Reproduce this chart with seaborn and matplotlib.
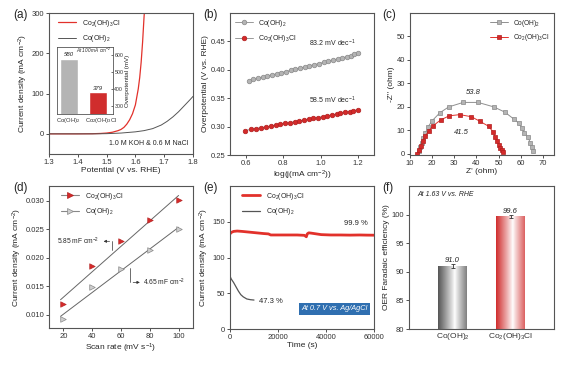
import numpy as np
import pandas as pd
import matplotlib
matplotlib.use("Agg")
import matplotlib.pyplot as plt
from matplotlib.colors import LinearSegmentedColormap
import seaborn as sns

sns.set_style("ticks")
plt.rcParams["font.family"] = ["Liberation Sans", "DejaVu Sans"]
plt.rcParams["mathtext.default"] = "regular"
plt.rcParams["axes.edgecolor"] = "#555555"
plt.rcParams["axes.linewidth"] = 0.8
plt.rcParams["xtick.color"] = "#333333"
plt.rcParams["ytick.color"] = "#333333"

RED = "#e2312b"
DRED = "#b01e1e"
GRAY = "#8a8a8a"
LGRAY = "#b4b4b4"
CL = "Co$_2$(OH)$_3$Cl"
CO = "Co(OH)$_2$"

# (a) LSV curves
pot_cl = [1.30, 1.40, 1.45, 1.48, 1.50, 1.52, 1.54, 1.55, 1.56, 1.57, 1.58, 1.59, 1.60, 1.61, 1.615, 1.62, 1.625, 1.63, 1.633]
j_cl = [0, 0, 0.3, 1, 2, 4, 8, 11, 16, 24, 35, 50, 72, 112, 140, 178, 228, 290, 320]
pot_co = [1.30, 1.45, 1.50, 1.55, 1.60, 1.63, 1.66, 1.69, 1.71, 1.73, 1.75, 1.77, 1.79, 1.80]
j_co = [0, 0, 0.5, 2, 5, 8, 13, 22, 31, 42, 55, 70, 85, 93]
inset_names = [CO, CL]
inset_eta = [580, 379]

# (b) Tafel
logj_co = [0.615, 0.64, 0.665, 0.69, 0.715, 0.74, 0.765, 0.79, 0.815, 0.84, 0.865, 0.89, 0.915,
           0.94, 0.965, 0.99, 1.015, 1.04, 1.065, 1.09, 1.115, 1.14, 1.16, 1.18, 1.20]
eta_co = [0.381, 0.383, 0.385, 0.387, 0.389, 0.391, 0.393, 0.395, 0.397, 0.399, 0.401, 0.403, 0.405,
          0.407, 0.409, 0.411, 0.413, 0.415, 0.417, 0.419, 0.421, 0.423, 0.425, 0.427, 0.430]
logj_cl = [0.595, 0.625, 0.655, 0.68, 0.71, 0.735, 0.76, 0.785, 0.81, 0.835, 0.86, 0.885, 0.91,
           0.935, 0.96, 0.985, 1.01, 1.035, 1.06, 1.085, 1.105, 1.13, 1.155, 1.175, 1.20]
eta_cl = [0.293, 0.295, 0.2965, 0.298, 0.2995, 0.301, 0.3025, 0.304, 0.3055, 0.307, 0.3085, 0.310, 0.3115,
          0.313, 0.3145, 0.316, 0.3175, 0.319, 0.3205, 0.322, 0.3235, 0.325, 0.3265, 0.328, 0.330]

# (c) Nyquist
zre_co = [14.05, 14.65, 15.25, 15.85, 16.9, 18.25, 20.0, 23.5, 27.5, 34.0, 40.75, 47.8, 52.75,
          56.9, 59.2, 60.4, 61.6, 63.25, 64.3, 65.2, 65.65]
zim_co = [1.4, 3.1, 4.8, 6.6, 8.8, 11.6, 14.1, 17.5, 20.0, 21.9, 21.9, 20.0, 17.8,
          14.8, 13.0, 11.0, 9.0, 7.0, 4.8, 3.1, 1.4]
zre_cl = [13.3, 14.2, 15.0, 15.7, 16.9, 18.4, 20.5, 23.8, 27.7, 32.5, 37.75, 41.65, 45.55,
          47.5, 48.4, 49.3, 50.2, 50.8, 51.4, 52.0]
zim_cl = [0.1, 1.7, 3.5, 5.5, 7.6, 9.7, 12.0, 14.4, 16.2, 16.7, 15.8, 13.8, 11.7,
          9.3, 7.3, 5.6, 3.9, 2.5, 1.5, 0.8]

# (d) Cdl
scan = [20, 40, 60, 80, 100]
cdl_cl = [0.0119, 0.0185, 0.0229, 0.0267, 0.0301]
cdl_co = [0.0093, 0.0149, 0.0180, 0.0214, 0.0251]

# (e) stability
t_cl = [0, 500, 1500, 3000, 5000, 8000, 11000, 14000, 16000, 17000, 20000, 24000, 28000, 31000,
        31800, 32200, 32800, 34000, 36000, 38000, 42000, 46000, 50000, 54000, 57000, 60000]
i_cl = [133, 135, 136.5, 137, 136.5, 135.5, 134.5, 133.5, 133, 131.5, 131.5, 131.5, 131.5, 131,
        129, 133, 134.5, 134, 133, 132, 131.5, 131.5, 131.3, 131.5, 131.3, 131.2]
t_co = [0, 500, 1500, 2500, 3500, 4500, 5500, 7000, 8500, 10000]
i_co = [74, 70, 65, 59, 53, 48, 45, 42, 41, 40.5]

# (f) Faradaic efficiency
fe_names = [CO, CL]
fe = [91.0, 99.6]
fe_err = [0.4, 0.25]

W, H = 583, 368
fig = plt.figure(figsize=(W / 100, H / 100), dpi=100)


def px_axes(l, t, r, b):
    return fig.add_axes([l / W, 1 - b / H, (r - l) / W, (b - t) / H])


def style(ax, fs=5.5):
    ax.tick_params(direction="out", length=2, width=0.6, labelsize=fs, pad=1.5)
    for s in ax.spines.values():
        s.set_visible(True)


LAB = 6.0

# ---- (a)
ax = px_axes(49, 13, 193, 154)
sns.lineplot(x=pot_cl, y=j_cl, ax=ax, color=RED, lw=0.9, label=CL)
sns.lineplot(x=pot_co, y=j_co, ax=ax, color="#555555", lw=0.7, label=CO)
ax.set_xlim(1.3, 1.8)
ax.set_ylim(-50, 300)
ax.set_yticks([0, 100, 200, 300])
ax.set_xlabel("Potential (V vs. RHE)", fontsize=LAB, labelpad=1)
ax.set_ylabel("Current density (mA cm$^{-2}$)", fontsize=LAB, labelpad=1)
ax.text(1.645, -23, "1.0 M KOH & 0.6 M NaCl", fontsize=5, ha="center", va="center")
ax.legend(loc="upper left", frameon=False, fontsize=5, handlelength=2.6, borderaxespad=0.3,
          labelspacing=0.6, bbox_to_anchor=(0.03, 1.0))
style(ax)

ins = px_axes(57, 47, 113, 114)
sns.barplot(x=inset_names, y=inset_eta, ax=ins, palette=[LGRAY, "#d02d2d"], hue=inset_names,
            legend=False, width=0.62, saturation=1)
ins.set_ylim(250, 650)
ins.set_xlim(-0.43, 1.53)
ins.yaxis.tick_right()
ins.yaxis.set_label_position("right")
ins.set_yticks([300, 400, 500, 600])
ins.set_ylabel("Overpotential (mV)", fontsize=4.5, labelpad=1)
for i, v in enumerate(inset_eta):
    ins.text(i, v + 8, f"{v}", ha="center", va="bottom", fontsize=4.3, style="italic")
ins.text(1.45, 628, "At 100 mA cm$^{-2}$", ha="right", va="center", fontsize=3.3, style="italic")
ins.set_xticks([-0.05, 1.1])
ins.set_xticklabels(inset_names)
ins.tick_params(axis="x", length=0, labelsize=4.2, pad=1.5)
ins.tick_params(axis="y", direction="in", length=1.5, width=0.5, labelsize=3.8, pad=1)
for s in ins.spines.values():
    s.set_visible(True)
    s.set_linewidth(0.6)

# ---- (b)
ax = px_axes(230, 13, 374, 155)
sns.lineplot(x=logj_co, y=eta_co, ax=ax, color="#999999", lw=0.7, marker="o", markersize=3.3,
             markerfacecolor=LGRAY, markeredgecolor="#888888", markeredgewidth=0.5, label=CO)
sns.lineplot(x=logj_cl, y=eta_cl, ax=ax, color="#999999", lw=0.7, marker="o", markersize=3.3,
             markerfacecolor="#d42a2a", markeredgecolor=DRED, markeredgewidth=0.5, label=CL)
ax.set_xlim(0.515, 1.285)
ax.set_ylim(0.25, 0.50)
ax.set_xticks([0.6, 0.8, 1.0, 1.2])
ax.set_yticks([0.25, 0.30, 0.35, 0.40, 0.45])
ax.set_xlabel("log(j(mA cm$^{-2}$))", fontsize=LAB, labelpad=1)
ax.set_ylabel("Overpotential (V vs. RHE)", fontsize=LAB, labelpad=1)
ax.text(1.06, 0.446, "83.2 mV dec$^{-1}$", fontsize=5, ha="center", va="center")
ax.text(1.06, 0.346, "58.5 mV dec$^{-1}$", fontsize=5, ha="center", va="center")
ax.legend(loc="upper left", frameon=False, fontsize=5, handlelength=2.6, borderaxespad=0.3,
          labelspacing=0.6)
style(ax)

# ---- (c)
ax = px_axes(410, 13, 554, 155)
sns.lineplot(x=zre_co, y=zim_co, ax=ax, sort=False, color="#8f8f8f", lw=0.7, marker="s", markersize=3.3,
             markerfacecolor=LGRAY, markeredgecolor="#888888", markeredgewidth=0.5, label=CO)
sns.lineplot(x=zre_cl, y=zim_cl, ax=ax, sort=False, color=RED, lw=0.7, marker="s", markersize=3.3,
             markerfacecolor="#d42a2a", markeredgecolor=DRED, markeredgewidth=0.5, label=CL)
ax.set_xlim(10, 75)
ax.set_ylim(-0.5, 60)
ax.set_xticks([10, 20, 30, 40, 50, 60, 70])
ax.set_yticks([0, 10, 20, 30, 40, 50])
ax.set_xlabel("Z' (ohm)", fontsize=LAB, labelpad=1)
ax.set_ylabel("-Z'' (ohm)", fontsize=LAB, labelpad=1)
ax.text(38.5, 26, "53.8", fontsize=5.5, style="italic", ha="center", va="center")
ax.text(33, 9, "41.5", fontsize=5.5, style="italic", ha="center", va="center")
ax.legend(loc="upper right", frameon=False, fontsize=4.8, handlelength=2.6, borderaxespad=0.3,
          labelspacing=0.5)
style(ax)

# ---- (d)
ax = px_axes(49, 186, 193, 328)
sns.scatterplot(x=scan, y=cdl_cl, ax=ax, marker=">", s=16, color="#d42a2a", edgecolor=DRED,
                linewidth=0.4, zorder=3)
sns.scatterplot(x=scan, y=cdl_co, ax=ax, marker=">", s=16, color="#cfcfcf", edgecolor="#888888",
                linewidth=0.5, zorder=3)
for y, fc, ec, lab in [(cdl_cl, "#d42a2a", DRED, CL), (cdl_co, "#cfcfcf", "#888888", CO)]:
    k, b0 = np.polyfit(scan, y, 1)
    xs = np.array([18, 100])
    ax.plot(xs, k * xs + b0, color="#666666", lw=0.7, zorder=2)
    ax.plot([], [], color="#888888", lw=0.8, marker=">", markersize=4, markerfacecolor=fc,
            markeredgecolor=ec, markeredgewidth=0.5, label=lab)
ax.set_xlim(10, 110)
ax.set_ylim(0.0077, 0.0326)
ax.set_xticks([20, 40, 60, 80, 100])
ax.set_yticks([0.010, 0.015, 0.020, 0.025, 0.030])
ax.yaxis.set_major_formatter(matplotlib.ticker.FormatStrFormatter("%.3f"))
ax.set_xlabel("Scan rate (mV s$^{-1}$)", fontsize=LAB, labelpad=1)
ax.set_ylabel("Current density (mA cm$^{-2}$)", fontsize=LAB, labelpad=1)
ax.text(30, 0.0229, "5.85 mF cm$^{-2}$", fontsize=4.8, ha="center", va="center")
ax.plot([54, 54], [0.0214, 0.0229], color="#333333", lw=0.5)
ax.annotate("", xy=(46, 0.0229), xytext=(54, 0.0229),
            arrowprops=dict(arrowstyle="-|>", lw=0.5, color="#333333", mutation_scale=4))
ax.text(90, 0.0157, "4.65 mF cm$^{-2}$", fontsize=4.8, ha="center", va="center")
ax.plot([66.5, 66.5], [0.0157, 0.0183], color="#333333", lw=0.5)
ax.annotate("", xy=(75, 0.0157), xytext=(66.5, 0.0157),
            arrowprops=dict(arrowstyle="-|>", lw=0.5, color="#333333", mutation_scale=4))
ax.legend(loc="upper left", frameon=False, fontsize=5, handlelength=2.6, borderaxespad=0.3,
          labelspacing=0.6, bbox_to_anchor=(0.05, 1.0))
style(ax)

# ---- (e)
ax = px_axes(230, 186, 374, 329)
sns.lineplot(x=t_cl, y=i_cl, ax=ax, color=RED, lw=2.0, label=CL)
sns.lineplot(x=t_co, y=i_co, ax=ax, color="#555555", lw=0.9, label=CO)
ax.set_xlim(0, 60000)
ax.set_ylim(0, 200)
ax.set_xticks([0, 20000, 40000, 60000])
ax.set_yticks([0, 50, 100, 150])
ax.set_xlabel("Time (s)", fontsize=LAB, labelpad=1)
ax.set_ylabel("Current density (mA cm$^{-2}$)", fontsize=LAB, labelpad=1)
ax.text(52500, 147, "99.9 %", fontsize=5.5, ha="center", va="center")
ax.text(17000, 38, "47.3 %", fontsize=5.5, ha="center", va="center")
ax.text(43600, 28, "At 0.7 V vs. Ag/AgCl", fontsize=5.3, style="italic", color="white",
        ha="center", va="center",
        bbox=dict(boxstyle="square,pad=0.35", facecolor="#2f6fb0", edgecolor="none"))
ax.legend(loc="upper left", frameon=False, fontsize=5, handlelength=2.6, borderaxespad=0.3,
          labelspacing=0.6, bbox_to_anchor=(0.05, 1.0))
style(ax)

# ---- (f)
ax = px_axes(409, 186, 554, 329)
sns.barplot(x=fe_names, y=fe, ax=ax, hue=fe_names, palette=["#555555", "#d02d2d"], legend=False,
            width=0.5, saturation=1)
prof = np.abs(np.linspace(0, 1, 200) - 0.58) / 0.58
for p, c in zip(ax.patches, ["#555555", "#d02d2d"]):
    cmap = LinearSegmentedColormap.from_list("g", ["white", c])
    x0, w, h = p.get_x(), p.get_width(), p.get_height()
    im = ax.imshow(prof[None, :] ** 0.9, extent=[x0, x0 + w, 80, h], aspect="auto", cmap=cmap,
                   vmin=0, vmax=1, zorder=p.get_zorder() + 0.1)
ax.errorbar(range(2), fe, yerr=fe_err, fmt="none", ecolor="#333333", elinewidth=0.6,
            capsize=1.2, capthick=0.6, zorder=5)
for i, v in enumerate(fe):
    ax.text(i, v + 0.9, f"{v:.1f}", fontsize=5.5, style="italic", ha="center", va="center")
ax.set_xlim(-0.75, 1.75)
ax.set_ylim(80, 105)
ax.set_yticks([80, 85, 90, 95, 100])
ax.text(-0.6, 103.6, "At 1.63 V vs. RHE", fontsize=5, style="italic", ha="left", va="center")
ax.set_ylabel("OER Faradaic efficiency (%)", fontsize=LAB, labelpad=1)
style(ax)
ax.tick_params(axis="x", length=0, labelsize=6)

for lab, x, y in [("(a)", 13, 15), ("(b)", 203, 15), ("(c)", 382, 15),
                  ("(d)", 13, 188), ("(e)", 203, 188), ("(f)", 382, 188)]:
    fig.text(x / W, 1 - y / H, lab, fontsize=8.5, ha="left", va="center")

fig.savefig("out.png", dpi=100)
